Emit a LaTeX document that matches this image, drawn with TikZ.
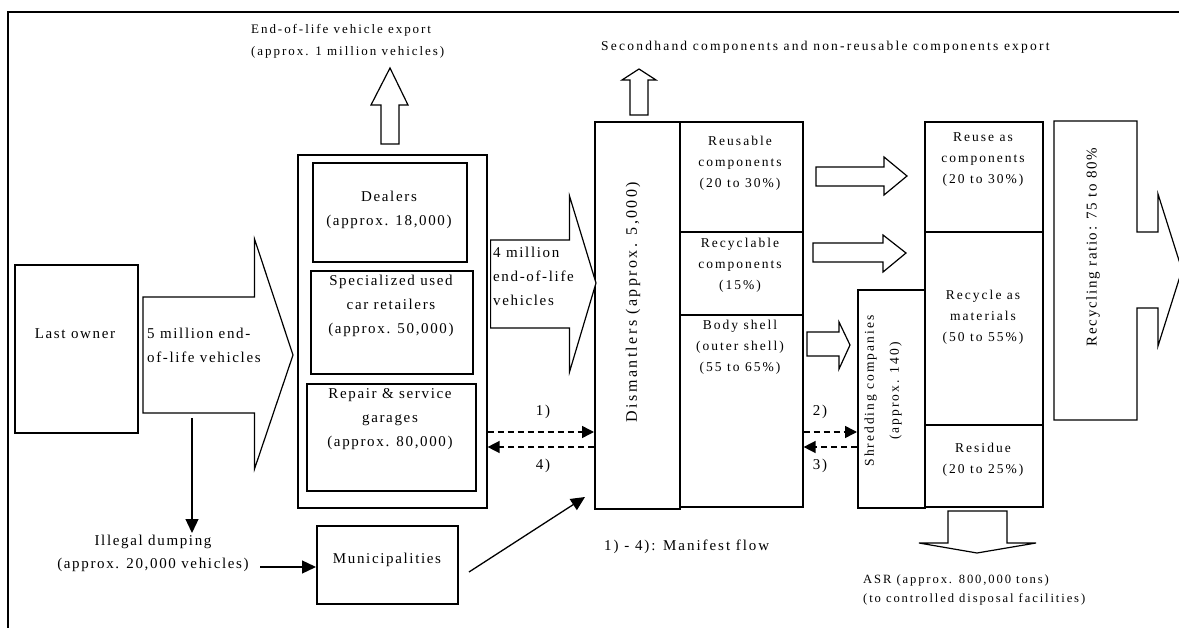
\documentclass[tikz,border=0pt]{standalone}
\usepackage{fontspec}
\setmainfont{Liberation Serif}[LetterSpace=15]
\newfontfamily\lsA{Liberation Serif}[LetterSpace=11]
\newfontfamily\lsB{Liberation Serif}[LetterSpace=15]
\newfontfamily\lsC{Liberation Serif}[LetterSpace=16.5]
\newfontfamily\lsD{Liberation Serif}[LetterSpace=13]
\usetikzlibrary{arrows.meta}
\newcommand\fbig{\lsA\fontsize{15}{24}\selectfont}
\newcommand\fsml{\lsB\fontsize{13.5}{21}\selectfont}
\newcommand\fexp{\lsB\fontsize{13}{22}\selectfont}
\newcommand\fsec{\lsC\fontsize{13.5}{20}\selectfont}
\newcommand\fasr{\lsB\fontsize{12.6}{18.5}\selectfont}
\begin{document}
\begin{tikzpicture}[x=1pt,y=-1pt,
  box/.style={draw, line width=1.6pt, inner sep=0pt, anchor=north west},
  blockarrow/.style={draw, line width=1.2pt, line join=miter, fill=white},
  txt/.style={inner sep=1pt, align=center, font=\fbig},
  stxt/.style={inner sep=1pt, align=center, font=\fsml},
  arr/.style={line width=1.3pt, -{Triangle[length=14pt,width=13pt]}},
  man/.style={line width=1.5pt, dash pattern=on 6pt off 4pt, -{Triangle[length=12pt,width=12pt]}}
]
\useasboundingbox (0,0) rectangle (1179,628);

% frame
\draw[line width=1.3pt] (8,628) -- (8,12) -- (1179,12);

% boxes
\node[box, minimum width=123pt, minimum height=168pt] (owner) at (14,264) {};
\node[box, minimum width=189pt, minimum height=353pt] (group) at (297,154) {};
\node[box, minimum width=154pt, minimum height=99pt] (dealers) at (312,162) {};
\node[box, minimum width=162pt, minimum height=103pt] (special) at (310,270) {};
\node[box, minimum width=169pt, minimum height=107pt] (repair) at (306,383) {};
\node[box, minimum width=141pt, minimum height=78pt] (municip) at (316,525) {};
\node[box, minimum width=85pt, minimum height=387pt] (dis) at (594,121) {};
\node[box, minimum width=123pt, minimum height=110pt] (reusable) at (679,121) {};
\node[box, minimum width=123pt, minimum height=83pt] (recyclable) at (679,231) {};
\node[box, minimum width=123pt, minimum height=192pt] (body) at (679,314) {};
\node[box, minimum width=67pt, minimum height=218pt] (shred) at (857,289) {};
\node[box, minimum width=118pt, minimum height=110pt] (reuse) at (924,121) {};
\node[box, minimum width=118pt, minimum height=193pt] (recycle) at (924,231) {};
\node[box, minimum width=118pt, minimum height=82pt] (residue) at (924,424) {};

% block arrows
\draw[blockarrow] (143,297) -- (254.5,297) -- (254.5,239) -- (293,355) -- (254.5,469) -- (254.5,413) -- (143,413) -- cycle;
\draw[blockarrow] (490.6,240) -- (569.5,240) -- (569.5,196) -- (596,283) -- (569.5,372) -- (569.5,328) -- (490.6,328) -- cycle;
\draw[blockarrow] (381,144) -- (381,105) -- (371,105) -- (390,68) -- (408,105) -- (399,105) -- (399,144) -- cycle;
\draw[blockarrow] (630,115) -- (630,80) -- (622,80) -- (639,69) -- (656,80) -- (648,80) -- (648,115) -- cycle;
\draw[blockarrow] (816,167) -- (884,167) -- (884,157) -- (907,176) -- (884,195) -- (884,186) -- (816,186) -- cycle;
\draw[blockarrow] (813,243) -- (883,243) -- (883,235) -- (906,253) -- (883,272) -- (883,262) -- (813,262) -- cycle;
\draw[blockarrow] (807,332) -- (839,332) -- (839,322) -- (850,345) -- (839,369) -- (839,356) -- (807,356) -- cycle;
\draw[blockarrow] (1054,121) -- (1137,121) -- (1137,232) -- (1158,232) -- (1158,194) -- (1182,270) -- (1158,346) -- (1158,308) -- (1137,308) -- (1137,420) -- (1054,420) -- cycle;
\draw[blockarrow] (948,511) -- (1007,511) -- (1007,543) -- (1036,543) -- (977,553) -- (919,543) -- (948,543) -- cycle;

% texts
\node[inner sep=1pt, font=\fexp, anchor=west, align=left] (exporttxt) at (250,41) {End-of-life vehicle export\\(approx. 1 million vehicles)};
\node[inner sep=1pt, font=\fsec, anchor=west] (sectxt) at (600,47) {Secondhand components and non-reusable components export};
\node[txt] (ownertxt) at (75,334) {Last owner};
\node[txt, anchor=west, align=left] (fivem) at (146,345.5) {5 million end-\\of-life vehicles};
\node[txt, anchor=west, align=left] (fourm) at (492,276) {4 million\\end-of-life\\vehicles};
\node[txt] (dealerstxt) at (389,210) {Dealers\\(approx. 18,000)};
\node[txt] (specialtxt) at (391,306) {Specialized used\\car retailers\\(approx. 50,000)};
\node[txt] (repairtxt) at (390,419) {Repair \& service\\garages\\(approx. 80,000)};
\node[txt, font=\lsA\fontsize{15}{23}\selectfont] (illegal) at (153,553) {Illegal dumping\\(approx. 20,000 vehicles)};
\node[txt] (municiptxt) at (387,560) {Municipalities};
\node[txt, rotate=90, font=\lsB\fontsize{16}{20}\selectfont] (distxt) at (633,302) {Dismantlers (approx. 5,000)};
\node[stxt] (reusabletxt) at (740,163) {Reusable\\components\\(20 to 30\%)};
\node[stxt] (recyclabletxt) at (740,265) {Recyclable\\components\\(15\%)};
\node[stxt] (bodytxt) at (740,347) {Body shell\\(outer shell)\\(55 to 65\%)};
\node[txt, rotate=90, font=\lsB\fontsize{13.5}{25}\selectfont] (shredtxt) at (883,391) {Shredding companies\\(approx. 140)};
\node[stxt] (reusetxt) at (983,160) {Reuse as\\components\\(20 to 30\%)};
\node[stxt] (recycletxt) at (983,317) {Recycle as\\materials\\(50 to 55\%)};
\node[stxt] (residuetxt) at (983,459.5) {Residue\\(20 to 25\%)};
\node[txt, rotate=90] (ratiotxt) at (1093,247) {Recycling ratio: 75 to 80\%};
\node[txt, font=\lsD\fontsize{15}{20}\selectfont, anchor=west] (manifest) at (603,547) {1) - 4): Manifest flow};
\node[inner sep=1pt, font=\fasr, anchor=west, align=left] (asr) at (862,590) {ASR (approx. 800,000 tons)\\(to controlled disposal facilities)};
\node[txt] (l1) at (543,412) {1)};
\node[txt] (l4) at (543,466) {4)};
\node[txt] (l2) at (820,412) {2)};
\node[txt] (l3) at (820,466) {3)};

% connectors
\coordinate (dumpstart) at (192,418);
\draw[arr] (dumpstart) -- (dumpstart |- 0,533);
\draw[arr] (260,567) -- (municip.west |- 0,567);
\coordinate (mA) at (469,572);
\coordinate (mB) at (585,497);
\draw[arr] (mA) -- (mB);

% manifest flows
\draw[man] (group.east |- 0,432) -- (dis.west |- 0,432);
\draw[man] (dis.west |- 0,447) -- (group.east |- 0,447);
\draw[man] (body.east |- 0,432) -- (shred.west |- 0,432);
\draw[man] (shred.west |- 0,447) -- (body.east |- 0,447);
\end{tikzpicture}
\end{document}
